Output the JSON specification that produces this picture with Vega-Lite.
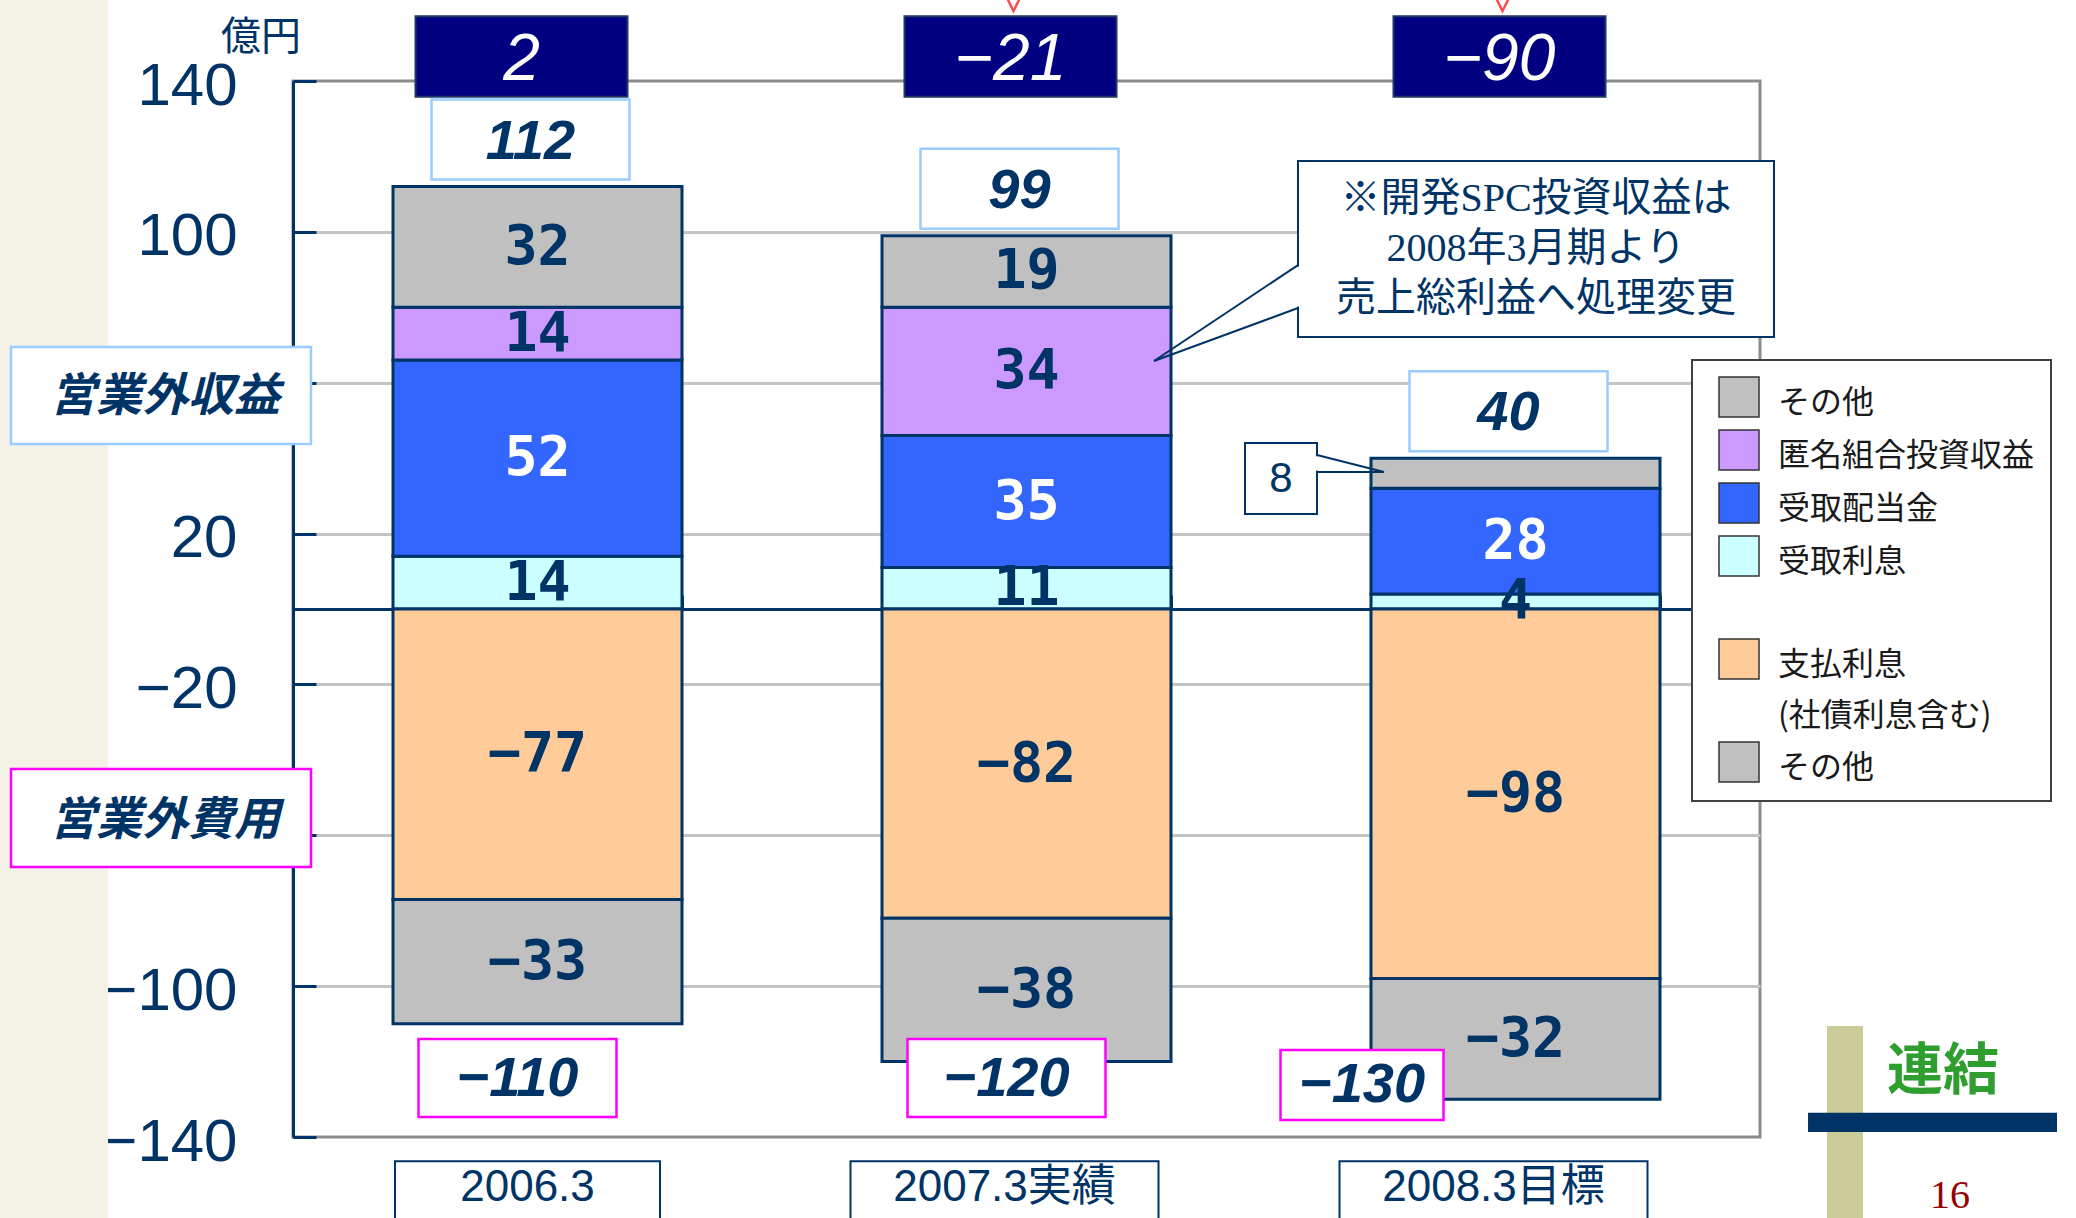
{
"$schema": "https://vega.github.io/schema/vega-lite/v6.json",
"width": 1467, "height": 1056,
"autosize": {"type": "none"},
"padding": {"left": 293, "top": 81, "right": 316, "bottom": 81},
"background": "white",
"config": {"view": {"stroke": "#8c8c8c", "strokeWidth": 3}},
"datasets": {
 "segments": [
  {"period": "2006.3", "cat": "受取利息", "v": 14, "k": 1},
  {"period": "2006.3", "cat": "受取配当金", "v": 52, "k": 2},
  {"period": "2006.3", "cat": "匿名組合投資収益", "v": 14, "k": 3},
  {"period": "2006.3", "cat": "その他（収益）", "v": 32, "k": 4},
  {"period": "2006.3", "cat": "支払利息", "v": -77, "k": 5},
  {"period": "2006.3", "cat": "その他（費用）", "v": -33, "k": 6},
  {"period": "2007.3実績", "cat": "受取利息", "v": 11, "k": 1},
  {"period": "2007.3実績", "cat": "受取配当金", "v": 35, "k": 2},
  {"period": "2007.3実績", "cat": "匿名組合投資収益", "v": 34, "k": 3},
  {"period": "2007.3実績", "cat": "その他（収益）", "v": 19, "k": 4},
  {"period": "2007.3実績", "cat": "支払利息", "v": -82, "k": 5},
  {"period": "2007.3実績", "cat": "その他（費用）", "v": -38, "k": 6},
  {"period": "2008.3目標", "cat": "受取利息", "v": 4, "k": 1},
  {"period": "2008.3目標", "cat": "受取配当金", "v": 28, "k": 2},
  {"period": "2008.3目標", "cat": "その他（収益）", "v": 8, "k": 4},
  {"period": "2008.3目標", "cat": "支払利息", "v": -98, "k": 5},
  {"period": "2008.3目標", "cat": "その他（費用）", "v": -32, "k": 6}
 ],
 "totals": [
  {"period": "2006.3", "pos": 112, "neg": -110, "net": 2},
  {"period": "2007.3実績", "pos": 99, "neg": -120, "net": -21},
  {"period": "2008.3目標", "pos": 40, "neg": -130, "net": -90}
 ]
},
"data": {"values": [{}]},
"layer": [
 {"mark": {"type": "rect", "fill": "#F4F2E7"},
  "encoding": {
   "x": {"datum": -0.2, "type": "quantitative", "scale": {"domain": [0.5, 3.5], "nice": false, "zero": false}, "axis": null},
   "x2": {"datum": 0.1217},
   "y": {"datum": 175, "type": "quantitative", "scale": {"domain": [-140, 140], "nice": false, "zero": false}, "axis": null},
   "y2": {"datum": -175}}},
 {"data": {"name": "segments"},
  "mark": {"type": "bar", "stroke": "#003366", "strokeWidth": 3},
  "encoding": {
   "x": {"field": "period", "type": "nominal", "title": null,
    "scale": {"domain": ["2006.3", "2007.3実績", "2008.3目標"], "paddingInner": 0.409, "paddingOuter": 0.2045},
    "axis": {"orient": "top", "offset": -528, "labels": false, "title": null, "domainColor": "#003366", "domainWidth": 3, "tickColor": "#003366", "tickWidth": 3, "tickSize": 14, "tickBand": "extent", "grid": false, "zindex": 0}},
   "y": {"field": "v", "type": "quantitative", "stack": "zero", "title": null,
    "scale": {"domain": [-140, 140], "nice": false, "zero": false},
    "axis": {"orient": "left", "values": [-140, -100, -60, -20, 20, 60, 100, 140], "format": "d", "title": null,
     "labelExpr": "abs(datum.value) == 60 ? '' : datum.label",
     "labelFont": "Liberation Sans", "labelFontSize": 60, "labelColor": "#003366", "labelPadding": 79, "labelBaseline": "middle", "labelOffset": 5, "labelFlush": false, "labelOverlap": false,
     "domainColor": "#003366", "domainWidth": 3, "tickColor": "#003366", "tickWidth": 3, "tickSize": -23,
     "grid": true, "gridColor": {"condition": {"test": "abs(datum.value) == 140", "value": "transparent"}, "value": "#C4C4C4"}, "gridWidth": 3, "zindex": 0}},
   "color": {"field": "cat", "type": "nominal",
    "scale": {"domain": ["その他（収益）", "匿名組合投資収益", "受取配当金", "受取利息", "gap", "支払利息", "note", "その他（費用）"],
              "range": ["#C0C0C0", "#CC99FF", "#3366FF", "#CCFFFF", "transparent", "#FFCC99", "transparent", "#C0C0C0"]},
    "legend": {"orient": "none", "legendX": 1399, "legendY": 279, "title": null,
     "symbolType": "square", "symbolSize": 1600, "symbolStrokeColor": "#333333", "symbolStrokeWidth": 1.5,
     "labelFont": "Noto Sans CJK JP", "labelFontSize": 32, "labelColor": "#1a1a1a", "labelOffset": 18, "labelLimit": 400,
     "labelExpr": "datum.label == 'gap' ? '' : datum.label == 'note' ? '(社債利息含む)' : split(datum.label, '（')[0]",
     "rowPadding": 7, "padding": 16, "symbolOffset": 10,
     "fillColor": "white", "strokeColor": "#404040",
     "encode": {
      "symbols": {"update": {"stroke": {"value": "#333333"}, "strokeWidth": {"value": 1.5}, "strokeOpacity": {"signal": "datum.value == 'gap' || datum.value == 'note' ? 0 : 1"}}},
      "labels": {"update": {"dy": {"value": 6}}},
      "legend": {"update": {"strokeWidth": {"value": 2}}}}}},
   "order": {"field": "k", "type": "quantitative"}}},
 {"data": {"name": "segments"},
  "mark": {"type": "text", "font": "DejaVu Sans Mono", "fontWeight": "bold", "fontSize": 55, "baseline": "middle", "align": "center"},
  "encoding": {
   "x": {"field": "period", "type": "nominal", "scale": {"domain": ["2006.3", "2007.3実績", "2008.3目標"], "paddingInner": 0.409, "paddingOuter": 0.2045}, "axis": null},
   "y": {"field": "v", "type": "quantitative", "stack": "zero", "bandPosition": 0.5, "scale": {"domain": [-140, 140], "nice": false, "zero": false}, "axis": null},
   "detail": {"field": "cat"},
   "order": {"field": "k", "type": "quantitative"},
   "text": {"condition": {"test": "datum.period == '2008.3目標' && datum.cat == 'その他（収益）'", "value": ""}, "field": "v", "type": "quantitative", "format": "d"},
   "color": {"condition": {"test": "datum.cat == '受取配当金'", "value": "white"}, "value": "#003366"}}},
 {"data": {"name": "totals"},
  "mark": {"type": "bar", "fill": "white", "stroke": "#99CCFF", "strokeWidth": 2.5, "width": 198, "xOffset": -7, "yOffset": -87, "y2Offset": -7},
  "encoding": {
   "x": {"field": "period", "type": "nominal", "scale": {"domain": ["2006.3", "2007.3実績", "2008.3目標"], "paddingInner": 0.409, "paddingOuter": 0.2045}, "axis": null},
   "y": {"field": "pos", "type": "quantitative", "scale": {"domain": [-140, 140], "nice": false, "zero": false}, "axis": null},
   "y2": {"field": "pos"}}},
 {"data": {"name": "totals"},
  "mark": {"type": "text", "font": "Liberation Sans", "fontStyle": "italic", "fontWeight": "bold", "fontSize": 56, "fill": "#003366", "baseline": "middle", "align": "center", "xOffset": -7, "yOffset": -45},
  "encoding": {
   "x": {"field": "period", "type": "nominal", "scale": {"domain": ["2006.3", "2007.3実績", "2008.3目標"], "paddingInner": 0.409, "paddingOuter": 0.2045}, "axis": null},
   "y": {"field": "pos", "type": "quantitative", "scale": {"domain": [-140, 140], "nice": false, "zero": false}, "axis": null},
   "text": {"field": "pos", "type": "quantitative", "format": "d"}}},
 {"data": {"name": "totals"},
  "mark": {"type": "bar", "fill": "#000080", "stroke": "#1F3864", "strokeWidth": 2, "width": 212, "xOffset": -16},
  "encoding": {
   "x": {"field": "period", "type": "nominal", "scale": {"domain": ["2006.3", "2007.3実績", "2008.3目標"], "paddingInner": 0.409, "paddingOuter": 0.2045}, "axis": null},
   "y": {"datum": 157.2, "type": "quantitative", "scale": {"domain": [-140, 140], "nice": false, "zero": false}, "axis": null},
   "y2": {"datum": 135.8}}},
 {"data": {"name": "totals"},
  "mark": {"type": "text", "font": "Liberation Sans", "fontStyle": "italic", "fontSize": 66, "fill": "white", "baseline": "middle", "align": "center", "xOffset": -16},
  "encoding": {
   "x": {"field": "period", "type": "nominal", "scale": {"domain": ["2006.3", "2007.3実績", "2008.3目標"], "paddingInner": 0.409, "paddingOuter": 0.2045}, "axis": null},
   "y": {"datum": 145.6, "type": "quantitative", "scale": {"domain": [-140, 140], "nice": false, "zero": false}, "axis": null},
   "text": {"field": "net", "type": "quantitative", "format": "d"}}},
 {"data": {"name": "totals"},
  "transform": [{"filter": "datum.period != '2008.3目標'"}],
  "mark": {"type": "bar", "fill": "white", "stroke": "#FF00FF", "strokeWidth": 2.5, "width": 198, "xOffset": -20},
  "encoding": {
   "x": {"field": "period", "type": "nominal", "scale": {"domain": ["2006.3", "2007.3実績", "2008.3目標"], "paddingInner": 0.409, "paddingOuter": 0.2045}, "axis": null},
   "y": {"datum": -114.0, "type": "quantitative", "scale": {"domain": [-140, 140], "nice": false, "zero": false}, "axis": null},
   "y2": {"datum": -134.7}}},
 {"data": {"name": "totals"},
  "transform": [{"filter": "datum.period == '2008.3目標'"}],
  "mark": {"type": "bar", "fill": "white", "stroke": "#FF00FF", "strokeWidth": 2.5, "width": 163, "xOffset": -153.5},
  "encoding": {
   "x": {"field": "period", "type": "nominal", "scale": {"domain": ["2006.3", "2007.3実績", "2008.3目標"], "paddingInner": 0.409, "paddingOuter": 0.2045}, "axis": null},
   "y": {"datum": -116.9, "type": "quantitative", "scale": {"domain": [-140, 140], "nice": false, "zero": false}, "axis": null},
   "y2": {"datum": -135.5}}},
 {"data": {"name": "totals"},
  "transform": [{"filter": "datum.period != '2008.3目標'"}],
  "mark": {"type": "text", "font": "Liberation Sans", "fontStyle": "italic", "fontWeight": "bold", "fontSize": 56, "fill": "#003366", "baseline": "middle", "align": "center", "xOffset": -20},
  "encoding": {
   "x": {"field": "period", "type": "nominal", "scale": {"domain": ["2006.3", "2007.3実績", "2008.3目標"], "paddingInner": 0.409, "paddingOuter": 0.2045}, "axis": null},
   "y": {"datum": -124.6, "type": "quantitative", "scale": {"domain": [-140, 140], "nice": false, "zero": false}, "axis": null},
   "text": {"field": "neg", "type": "quantitative", "format": "d"}}},
 {"data": {"name": "totals"},
  "transform": [{"filter": "datum.period == '2008.3目標'"}],
  "mark": {"type": "text", "font": "Liberation Sans", "fontStyle": "italic", "fontWeight": "bold", "fontSize": 56, "fill": "#003366", "baseline": "middle", "align": "center", "xOffset": -153.5},
  "encoding": {
   "x": {"field": "period", "type": "nominal", "scale": {"domain": ["2006.3", "2007.3実績", "2008.3目標"], "paddingInner": 0.409, "paddingOuter": 0.2045}, "axis": null},
   "y": {"datum": -126.2, "type": "quantitative", "scale": {"domain": [-140, 140], "nice": false, "zero": false}, "axis": null},
   "text": {"field": "neg", "type": "quantitative", "format": "d"}}},
 {"data": {"name": "totals"},
  "transform": [{"filter": "datum.period == '2006.3'"}],
  "mark": {"type": "bar", "fill": "white", "stroke": "#003366", "strokeWidth": 2, "width": 265, "xOffset": -10},
  "encoding": {
   "x": {"field": "period", "type": "nominal", "scale": {"domain": ["2006.3", "2007.3実績", "2008.3目標"], "paddingInner": 0.409, "paddingOuter": 0.2045}, "axis": null},
   "y": {"datum": -146.4, "type": "quantitative", "scale": {"domain": [-140, 140], "nice": false, "zero": false}, "axis": null},
   "y2": {"datum": -175}}},
 {"data": {"name": "totals"},
  "transform": [{"filter": "datum.period != '2006.3'"}],
  "mark": {"type": "bar", "fill": "white", "stroke": "#003366", "strokeWidth": 2, "width": 308, "xOffset": -22},
  "encoding": {
   "x": {"field": "period", "type": "nominal", "scale": {"domain": ["2006.3", "2007.3実績", "2008.3目標"], "paddingInner": 0.409, "paddingOuter": 0.2045}, "axis": null},
   "y": {"datum": -146.4, "type": "quantitative", "scale": {"domain": [-140, 140], "nice": false, "zero": false}, "axis": null},
   "y2": {"datum": -175}}},
 {"data": {"name": "totals"},
  "transform": [{"filter": "datum.period == '2006.3'"}],
  "mark": {"type": "text", "font": "Liberation Sans, Noto Sans CJK JP", "fontSize": 44, "fill": "#003366", "baseline": "middle", "align": "center", "xOffset": -10},
  "encoding": {
   "x": {"field": "period", "type": "nominal", "scale": {"domain": ["2006.3", "2007.3実績", "2008.3目標"], "paddingInner": 0.409, "paddingOuter": 0.2045}, "axis": null},
   "y": {"datum": -153.5, "type": "quantitative", "scale": {"domain": [-140, 140], "nice": false, "zero": false}, "axis": null},
   "text": {"field": "period"}}},
 {"data": {"name": "totals"},
  "transform": [{"filter": "datum.period != '2006.3'"}],
  "mark": {"type": "text", "font": "Liberation Sans, Noto Sans CJK JP", "fontSize": 44, "fill": "#003366", "baseline": "middle", "align": "center", "xOffset": -22},
  "encoding": {
   "x": {"field": "period", "type": "nominal", "scale": {"domain": ["2006.3", "2007.3実績", "2008.3目標"], "paddingInner": 0.409, "paddingOuter": 0.2045}, "axis": null},
   "y": {"datum": -153.5, "type": "quantitative", "scale": {"domain": [-140, 140], "nice": false, "zero": false}, "axis": null},
   "text": {"field": "period"}}},
 {"data": {"name": "totals"},
  "transform": [{"filter": "datum.period != '2006.3'"}],
  "mark": {"type": "point", "shape": "M-1,-1L0,1L1,-1", "size": 1936, "filled": false, "stroke": "#FF0000", "strokeWidth": 2.5, "xOffset": -13},
  "encoding": {
   "x": {"field": "period", "type": "nominal", "scale": {"domain": ["2006.3", "2007.3実績", "2008.3目標"], "paddingInner": 0.409, "paddingOuter": 0.2045}, "axis": null},
   "y": {"datum": 164.4, "type": "quantitative", "scale": {"domain": [-140, 140], "nice": false, "zero": false}, "axis": null}}},
 {"mark": {"type": "text", "text": "億円", "font": "Noto Sans CJK JP", "fontSize": 40, "fill": "#003366", "baseline": "middle", "align": "center"},
  "encoding": {
   "x": {"datum": 0.4346, "type": "quantitative", "scale": {"domain": [0.5, 3.5], "nice": false, "zero": false}, "axis": null},
   "y": {"datum": 151.3, "type": "quantitative", "scale": {"domain": [-140, 140], "nice": false, "zero": false}, "axis": null}}},
 {"mark": {"type": "rect", "fill": "white", "stroke": "#99CCFF", "strokeWidth": 2.5},
  "encoding": {
   "x": {"datum": -0.0767, "type": "quantitative", "scale": {"domain": [0.5, 3.5], "nice": false, "zero": false}, "axis": null},
   "x2": {"datum": 0.5368},
   "y": {"datum": 69.47, "type": "quantitative", "scale": {"domain": [-140, 140], "nice": false, "zero": false}, "axis": null},
   "y2": {"datum": 43.75}}},
 {"mark": {"type": "text", "text": "営業外収益", "font": "Noto Sans CJK JP", "fontWeight": "bold", "fontStyle": "italic", "fontSize": 46, "fill": "#003366", "baseline": "middle", "align": "center"},
  "encoding": {
   "x": {"datum": 0.2382, "type": "quantitative", "scale": {"domain": [0.5, 3.5], "nice": false, "zero": false}, "axis": null},
   "y": {"datum": 56.2, "type": "quantitative", "scale": {"domain": [-140, 140], "nice": false, "zero": false}, "axis": null}}},
 {"mark": {"type": "rect", "fill": "white", "stroke": "#FF00FF", "strokeWidth": 2.5},
  "encoding": {
   "x": {"datum": -0.0767, "type": "quantitative", "scale": {"domain": [0.5, 3.5], "nice": false, "zero": false}, "axis": null},
   "x2": {"datum": 0.5368},
   "y": {"datum": -42.4, "type": "quantitative", "scale": {"domain": [-140, 140], "nice": false, "zero": false}, "axis": null},
   "y2": {"datum": -68.4}}},
 {"mark": {"type": "text", "text": "営業外費用", "font": "Noto Sans CJK JP", "fontWeight": "bold", "fontStyle": "italic", "fontSize": 46, "fill": "#003366", "baseline": "middle", "align": "center"},
  "encoding": {
   "x": {"datum": 0.2382, "type": "quantitative", "scale": {"domain": [0.5, 3.5], "nice": false, "zero": false}, "axis": null},
   "y": {"datum": -56.2, "type": "quantitative", "scale": {"domain": [-140, 140], "nice": false, "zero": false}, "axis": null}}},
 {"mark": {"type": "rect", "fill": "white", "stroke": "#003366", "strokeWidth": 2},
  "encoding": {
   "x": {"datum": 2.5552, "type": "quantitative", "scale": {"domain": [0.5, 3.5], "nice": false, "zero": false}, "axis": null},
   "x2": {"datum": 3.5286},
   "y": {"datum": 118.8, "type": "quantitative", "scale": {"domain": [-140, 140], "nice": false, "zero": false}, "axis": null},
   "y2": {"datum": 72.1}}},
 {"mark": {"type": "rule", "stroke": "white", "strokeWidth": 5},
  "encoding": {
   "x": {"datum": 2.5552, "type": "quantitative", "scale": {"domain": [0.5, 3.5], "nice": false, "zero": false}, "axis": null},
   "y": {"datum": 90.8, "type": "quantitative", "scale": {"domain": [-140, 140], "nice": false, "zero": false}, "axis": null},
   "y2": {"datum": 80.2}}},
 {"mark": {"type": "rule", "stroke": "#003366", "strokeWidth": 2},
  "encoding": {
   "x": {"datum": 2.5552, "type": "quantitative", "scale": {"domain": [0.5, 3.5], "nice": false, "zero": false}, "axis": null},
   "x2": {"datum": 2.2607},
   "y": {"datum": 91.2, "type": "quantitative", "scale": {"domain": [-140, 140], "nice": false, "zero": false}, "axis": null},
   "y2": {"datum": 65.76}}},
 {"mark": {"type": "rule", "stroke": "#003366", "strokeWidth": 2},
  "encoding": {
   "x": {"datum": 2.5552, "type": "quantitative", "scale": {"domain": [0.5, 3.5], "nice": false, "zero": false}, "axis": null},
   "x2": {"datum": 2.2607},
   "y": {"datum": 79.8, "type": "quantitative", "scale": {"domain": [-140, 140], "nice": false, "zero": false}, "axis": null},
   "y2": {"datum": 65.76}}},
 {"mark": {"type": "text", "text": ["※開発SPC投資収益は", "2008年3月期より", "売上総利益へ処理変更"], "font": "Liberation Serif, Noto Sans CJK JP", "fontSize": 40, "lineHeight": 50, "fill": "#003366", "baseline": "middle", "align": "center"},
  "encoding": {
   "x": {"datum": 3.0419, "type": "quantitative", "scale": {"domain": [0.5, 3.5], "nice": false, "zero": false}, "axis": null},
   "y": {"datum": 108.7, "type": "quantitative", "scale": {"domain": [-140, 140], "nice": false, "zero": false}, "axis": null}}},
 {"mark": {"type": "rect", "fill": "white", "stroke": "#003366", "strokeWidth": 2},
  "encoding": {
   "x": {"datum": 2.4468, "type": "quantitative", "scale": {"domain": [0.5, 3.5], "nice": false, "zero": false}, "axis": null},
   "x2": {"datum": 2.5941},
   "y": {"datum": 44.02, "type": "quantitative", "scale": {"domain": [-140, 140], "nice": false, "zero": false}, "axis": null},
   "y2": {"datum": 25.19}}},
 {"mark": {"type": "rule", "stroke": "white", "strokeWidth": 5},
  "encoding": {
   "x": {"datum": 2.5941, "type": "quantitative", "scale": {"domain": [0.5, 3.5], "nice": false, "zero": false}, "axis": null},
   "y": {"datum": 40.5, "type": "quantitative", "scale": {"domain": [-140, 140], "nice": false, "zero": false}, "axis": null},
   "y2": {"datum": 36.7}}},
 {"mark": {"type": "rule", "stroke": "#003366", "strokeWidth": 2},
  "encoding": {
   "x": {"datum": 2.5941, "type": "quantitative", "scale": {"domain": [0.5, 3.5], "nice": false, "zero": false}, "axis": null},
   "x2": {"datum": 2.7311},
   "y": {"datum": 40.83, "type": "quantitative", "scale": {"domain": [-140, 140], "nice": false, "zero": false}, "axis": null},
   "y2": {"datum": 36.33}}},
 {"mark": {"type": "rule", "stroke": "#003366", "strokeWidth": 2},
  "encoding": {
   "x": {"datum": 2.5941, "type": "quantitative", "scale": {"domain": [0.5, 3.5], "nice": false, "zero": false}, "axis": null},
   "x2": {"datum": 2.7311},
   "y": {"datum": 36.33, "type": "quantitative", "scale": {"domain": [-140, 140], "nice": false, "zero": false}, "axis": null},
   "y2": {"datum": 36.33}}},
 {"data": {"name": "segments"},
  "transform": [{"filter": "datum.period == '2008.3目標' && datum.cat == 'その他（収益）'"}],
  "mark": {"type": "text", "font": "Liberation Sans", "fontSize": 42, "fill": "#003366", "baseline": "middle", "align": "center"},
  "encoding": {
   "x": {"datum": 2.5204, "type": "quantitative", "scale": {"domain": [0.5, 3.5], "nice": false, "zero": false}, "axis": null},
   "y": {"datum": 34.47, "type": "quantitative", "scale": {"domain": [-140, 140], "nice": false, "zero": false}, "axis": null},
   "text": {"field": "v", "type": "quantitative", "format": "d"}}},
 {"mark": {"type": "rect", "fill": "#CCCC99"},
  "encoding": {
   "x": {"datum": 3.6370, "type": "quantitative", "scale": {"domain": [0.5, 3.5], "nice": false, "zero": false}, "axis": null},
   "x2": {"datum": 3.7106},
   "y": {"datum": -110.6, "type": "quantitative", "scale": {"domain": [-140, 140], "nice": false, "zero": false}, "axis": null},
   "y2": {"datum": -175}}},
 {"mark": {"type": "rect", "fill": "#003366"},
  "encoding": {
   "x": {"datum": 3.5982, "type": "quantitative", "scale": {"domain": [0.5, 3.5], "nice": false, "zero": false}, "axis": null},
   "x2": {"datum": 4.1074},
   "y": {"datum": -133.6, "type": "quantitative", "scale": {"domain": [-140, 140], "nice": false, "zero": false}, "axis": null},
   "y2": {"datum": -138.7}}},
 {"mark": {"type": "text", "text": "連結", "font": "Noto Sans CJK JP", "fontWeight": "bold", "fontSize": 56, "fill": "#2E9E2E", "baseline": "middle", "align": "center"},
  "encoding": {
   "x": {"datum": 3.8742, "type": "quantitative", "scale": {"domain": [0.5, 3.5], "nice": false, "zero": false}, "axis": null},
   "y": {"datum": -122.8, "type": "quantitative", "scale": {"domain": [-140, 140], "nice": false, "zero": false}, "axis": null}}},
 {"mark": {"type": "text", "text": "16", "font": "Liberation Serif", "fontSize": 40, "fill": "#990000", "baseline": "middle", "align": "center"},
  "encoding": {
   "x": {"datum": 3.8885, "type": "quantitative", "scale": {"domain": [0.5, 3.5], "nice": false, "zero": false}, "axis": null},
   "y": {"datum": -155.6, "type": "quantitative", "scale": {"domain": [-140, 140], "nice": false, "zero": false}, "axis": null}}}
],
"resolve": {"scale": {"x": "independent"}, "axis": {"y": "independent"}}
}
